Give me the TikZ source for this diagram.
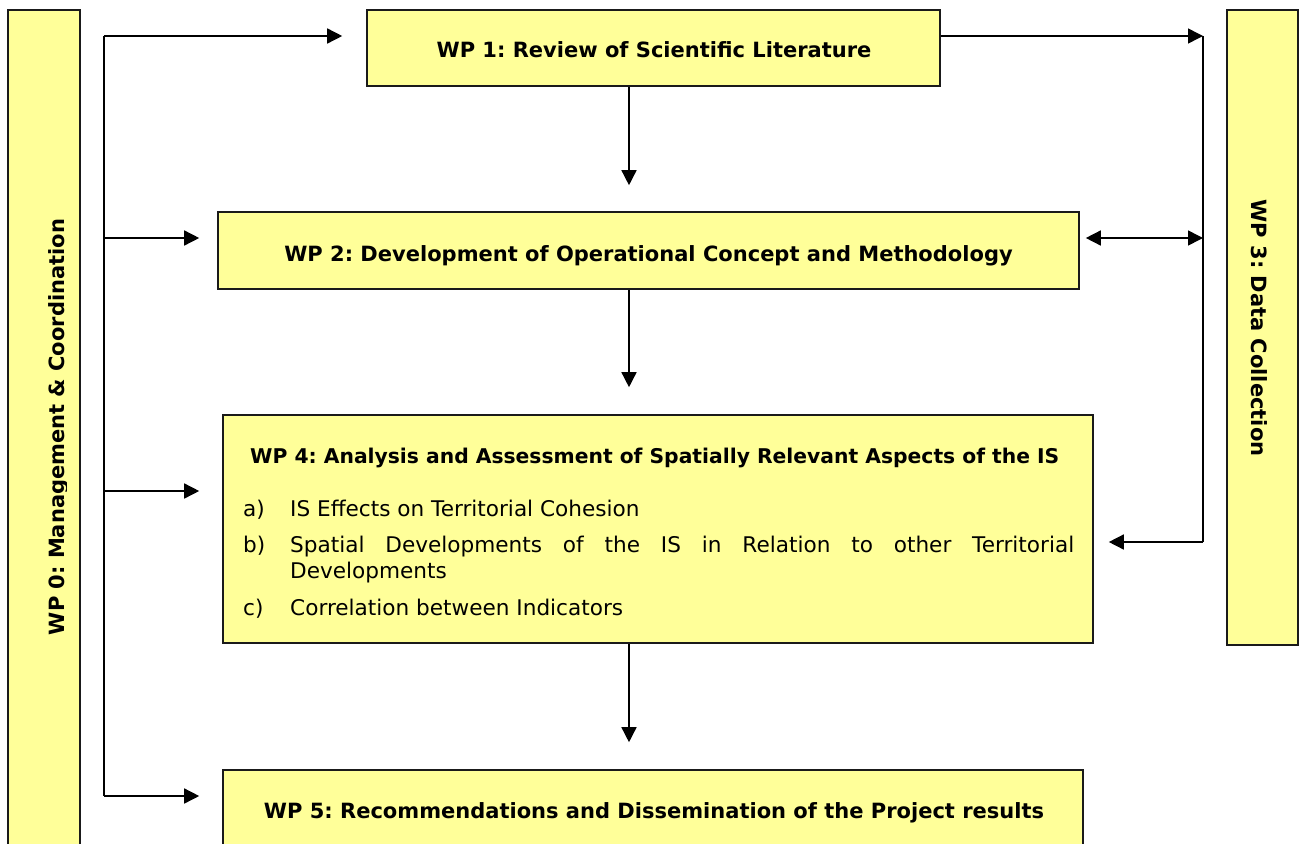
\documentclass[tikz,border=0pt]{standalone}
\usepackage{fontspec}
\setmainfont{DejaVu Sans}
\usetikzlibrary{arrows.meta,calc}
\frenchspacing
\definecolor{wpfill}{HTML}{FFFF99}
\definecolor{wpline}{HTML}{1A1A1A}
\tikzset{
  wpbox/.style={draw=wpline, line width=1.6pt, fill=wpfill, inner sep=0pt},
  wptitle/.style={font=\fontsize{21}{25}\selectfont\bfseries, inner sep=0pt, anchor=base},
  wpitem/.style={font=\fontsize{21.6}{26}\selectfont, inner sep=0pt, anchor=base west},
  tip/.tip={Triangle[length=15pt,width=15pt]},
  link/.style={draw=black, line width=1.5pt, -tip},
  bus/.style={draw=black, line width=1.5pt},
}
\begin{document}
\begin{tikzpicture}[x=1pt,y=-1pt]
\useasboundingbox (0,0) rectangle (1300,843);
\clip (0,0) rectangle (1300,843);

% work package boxes
\node[wpbox, minimum width=72, minimum height=900] (wp0) at (44,460) {};
\node[wpbox, minimum width=573, minimum height=76] (wp1) at (653.5,48) {};
\node[wpbox, minimum width=861, minimum height=77] (wp2) at (648.5,250.5) {};
\node[wpbox, minimum width=71, minimum height=635] (wp3) at (1262.5,327.5) {};
\node[wpbox, minimum width=870, minimum height=228] (wp4) at (658,529) {};
\node[wpbox, minimum width=860, minimum height=80] (wp5) at (653,810) {};

% titles
\node[wptitle] (t1) at (654,57) {WP 1: Review of Scientific Literature};
\node[wptitle] (t2) at (648.5,261.5) {WP 2: Development of Operational Concept and Methodology};
\node[wptitle] (t5) at (654,818) {WP 5: Recommendations and Dissemination of the Project results};
\node[wptitle, anchor=base west, font=\fontsize{20.3}{25}\selectfont\bfseries] (t4) at (250,463)
  {WP 4: Analysis and Assessment of Spatially Relevant Aspects of the IS};
\begin{scope}
  \clip (8,0) rectangle (66,843);
  \node[wptitle, rotate=90] (t0) at (64,427) {WP 0: Management \& Coordination};
\end{scope}
\node[wptitle, rotate=-90] (t3) at (1251.5,328) {WP 3: Data Collection};

% list of WP 4 tasks
\node[wpitem] (la) at (243,516) {a)};
\node[wpitem] (ia) at (290,516) {IS Effects on Territorial Cohesion};
\node[wpitem] (lb) at (243,552) {b)};
\node[wpitem] (ib) at (290,552)
  {\makebox[784pt][s]{Spatial Developments of the IS in Relation to other Territorial}};
\node[wpitem] (ib2) at (290,578) {Developments};
\node[wpitem] (lc) at (243,615) {c)};
\node[wpitem] (ic) at (290,615) {Correlation between Indicators};

% management bus on the left
\coordinate (L1) at (104,36);
\coordinate (L2) at (104,238);
\coordinate (L4) at (104,491);
\coordinate (L5) at (104,796);
\draw[bus] (L1) -- (L5);
\draw[link, shorten >=24pt] (L1) -- (L1 -| wp1.west);
\draw[link, shorten >=18pt] (L2) -- (L2 -| wp2.west);
\draw[link, shorten >=23pt] (L4) -- (L4 -| wp4.west);
\draw[link, shorten >=23pt] (L5) -- (L5 -| wp5.west);

% main sequence
\coordinate (col) at (629,0);
\draw[link, shorten >=26pt] (wp1.south -| col) -- (wp2.north -| col);
\draw[link, shorten >=27pt] (wp2.south -| col) -- (wp4.north -| col);
\draw[link, shorten >=27pt] (wp4.south -| col) -- (wp5.north -| col);

% data collection bus on the right
\coordinate (R1) at (1203,36);
\coordinate (R2) at (1203,238);
\coordinate (R4) at (1203,542);
\draw[bus] (R1) -- (R4);
\draw[link] (wp1.east |- R1) -- (R1);
\draw[link, tip-tip, shorten <=6pt] (wp2.east |- R2) -- (R2);
\draw[link, shorten >=15pt] (R4) -- (R4 -| wp4.east);
\end{tikzpicture}
\end{document}
